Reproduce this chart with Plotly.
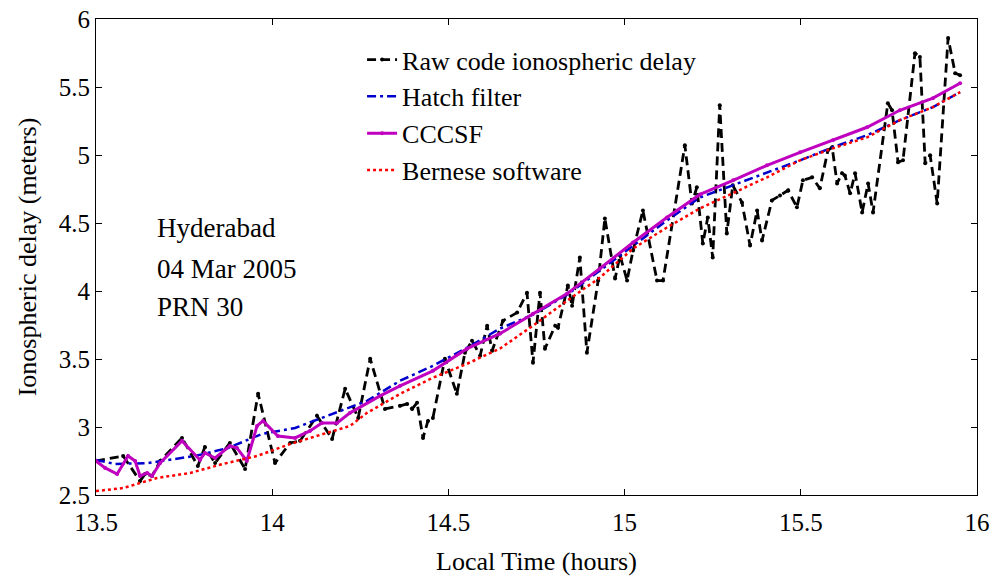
import plotly.graph_objects as go

# ---- data ----
raw_t = [13.500, 13.577, 13.625, 13.639, 13.659, 13.682, 13.744, 13.789, 13.809, 13.838,
         13.880, 13.923, 13.960, 14.008, 14.051, 14.079, 14.127, 14.170, 14.207, 14.244,
         14.278, 14.320, 14.363, 14.383, 14.397, 14.411, 14.428, 14.442, 14.456, 14.490,
         14.524, 14.547, 14.567, 14.590, 14.610, 14.624, 14.655, 14.695, 14.723, 14.740,
         14.760, 14.774, 14.803, 14.811, 14.839, 14.851, 14.873, 14.893, 14.925, 14.944,
         14.973, 14.987, 15.007, 15.024, 15.052, 15.092, 15.109, 15.171, 15.191, 15.205,
         15.222, 15.236, 15.250, 15.270, 15.290, 15.307, 15.333, 15.356, 15.376, 15.390,
         15.418, 15.441, 15.464, 15.489, 15.506, 15.532, 15.554, 15.577, 15.589, 15.603,
         15.617, 15.625, 15.640, 15.654, 15.674, 15.691, 15.705, 15.747, 15.759, 15.776,
         15.790, 15.824, 15.838, 15.853, 15.867, 15.887, 15.918, 15.938, 15.952]
raw_v = [2.750, 2.787, 2.603, 2.654, 2.640, 2.750, 2.920, 2.713, 2.853, 2.735,
         2.883, 2.691, 3.244, 2.735, 2.883, 2.898, 3.082, 2.912, 3.281, 3.067,
         3.502, 3.133, 3.156, 3.170, 3.133, 3.178, 2.920, 3.045, 3.067, 3.502,
         3.244, 3.546, 3.635, 3.524, 3.745, 3.561, 3.782, 3.841, 3.988, 3.472,
         3.988, 3.576, 3.745, 3.730, 4.040, 3.892, 4.246, 3.546, 4.077, 4.534,
         4.091, 4.261, 4.077, 4.298, 4.592, 4.077, 4.077, 5.071, 4.644, 4.762,
         4.349, 4.541, 4.246, 5.366, 4.423, 4.777, 4.651, 4.335, 4.592, 4.371,
         4.666, 4.703, 4.740, 4.615, 4.814, 4.836, 4.755, 5.035, 5.057, 4.791,
         4.865, 4.850, 4.718, 4.865, 4.578, 4.791, 4.578, 5.381, 5.329, 4.946,
         4.961, 5.749, 5.720, 4.939, 4.998, 4.644, 5.860, 5.602, 5.587]

hatch_t = [13.500, 13.554, 13.648, 13.781, 13.875, 13.971, 14.065, 14.173, 14.269, 14.363,
           14.456, 14.553, 14.646, 14.740, 14.837, 14.930, 15.024, 15.120, 15.214, 15.308,
           15.404, 15.498, 15.591, 15.688, 15.781, 15.875, 15.952]
hatch_v = [2.758, 2.728, 2.735, 2.787, 2.846, 2.949, 2.993, 3.097, 3.192, 3.340,
           3.450, 3.583, 3.723, 3.826, 3.973, 4.150, 4.335, 4.519, 4.688, 4.777,
           4.873, 4.961, 5.057, 5.145, 5.256, 5.352, 5.462]

cccsf_t = [13.500, 13.526, 13.560, 13.591, 13.611, 13.625, 13.645, 13.659, 13.682, 13.744,
           13.795, 13.809, 13.838, 13.880, 13.900, 13.928, 13.957, 13.974, 14.016, 14.065,
           14.107, 14.141, 14.184, 14.221, 14.306, 14.363, 14.456, 14.553, 14.646, 14.740,
           14.837, 14.930, 15.024, 15.120, 15.214, 15.308, 15.404, 15.498, 15.591, 15.688,
           15.781, 15.875, 15.952]
cccsf_v = [2.750, 2.699, 2.654, 2.787, 2.750, 2.640, 2.662, 2.640, 2.735, 2.898,
           2.758, 2.809, 2.772, 2.861, 2.846, 2.750, 3.008, 3.045, 2.934, 2.920,
           2.971, 3.030, 3.030, 3.104, 3.229, 3.303, 3.413, 3.576, 3.686, 3.833,
           3.981, 4.165, 4.357, 4.541, 4.710, 4.814, 4.924, 5.020, 5.108, 5.204,
           5.329, 5.418, 5.528]

bern_t = [13.500, 13.577, 13.673, 13.767, 13.860, 13.957, 14.051, 14.144, 14.221, 14.269,
          14.363, 14.456, 14.553, 14.646, 14.740, 14.837, 14.930, 15.024, 15.120, 15.214,
          15.308, 15.404, 15.498, 15.591, 15.688, 15.781, 15.875, 15.952]
bern_v = [2.529, 2.551, 2.625, 2.662, 2.728, 2.787, 2.875, 2.949, 3.008, 3.104,
          3.244, 3.362, 3.465, 3.576, 3.745, 3.929, 4.099, 4.312, 4.467, 4.607,
          4.718, 4.836, 4.961, 5.049, 5.130, 5.256, 5.352, 5.462]

x_ticks = [13.5, 14, 14.5, 15, 15.5, 16]
x_labels = ["13.5", "14", "14.5", "15", "15.5", "16"]
y_ticks = [2.5, 3, 3.5, 4, 4.5, 5, 5.5, 6]
y_labels = ["2.5", "3", "3.5", "4", "4.5", "5", "5.5", "6"]

names = ["Raw code ionospheric delay", "Hatch filter", "CCCSF", "Bernese software"]
info_lines = ["Hyderabad", "04 Mar 2005", "PRN 30"]
info_y = [4.460, 4.165, 3.885]
info_x = 13.667

FONT = "Liberation Serif, Times New Roman, serif"
FS = 26
TFS = 25

fig = go.Figure()
fig.add_trace(go.Scatter(x=raw_t, y=raw_v, name=names[0], mode="lines+markers",
                         line=dict(color="black", width=2.8, dash="9px,5px"),
                         marker=dict(color="black", size=4)))
fig.add_trace(go.Scatter(x=hatch_t, y=hatch_v, name=names[1], mode="lines",
                         line=dict(color="#0000CC", width=2.5, dash="9px,4px,3px,4px")))
fig.add_trace(go.Scatter(x=cccsf_t, y=cccsf_v, name=names[2], mode="lines+markers",
                         line=dict(color="#BF00BF", width=3),
                         marker=dict(color="#BF00BF", size=4)))
fig.add_trace(go.Scatter(x=bern_t, y=bern_v, name=names[3], mode="lines",
                         line=dict(color="#FF0000", width=2.5, dash="3px,3px")))

for txt, yy in zip(info_lines, info_y):
    fig.add_annotation(x=info_x, y=yy, xref="x", yref="y", text=txt,
                       showarrow=False, xanchor="left", yanchor="middle", align="left",
                       font=dict(family=FONT, size=27, color="black"))

axis_common = dict(showline=True, linecolor="black", linewidth=1, mirror="ticks",
                   ticks="inside", ticklen=6, tickcolor="black", showgrid=False,
                   zeroline=False, automargin=False,
                   tickfont=dict(family=FONT, size=TFS, color="black"))

fig.update_layout(
    width=992, height=576,
    margin=dict(l=96, r=15, t=19, b=81),
    paper_bgcolor="white", plot_bgcolor="white",
    font=dict(family=FONT, size=FS, color="black"),
    xaxis=dict(range=[13.5, 16], tickvals=x_ticks, ticktext=x_labels,
               ticklabelstandoff=5,
               title=dict(text="Local Time (hours)", font=dict(family=FONT, size=FS), standoff=18),
               **axis_common),
    yaxis=dict(range=[2.5, 6], tickvals=y_ticks, ticktext=y_labels,
               title=dict(text="Ionospheric delay (meters)", font=dict(family=FONT, size=FS), standoff=14),
               **axis_common),
    legend=dict(x=0.302, y=0.964, xanchor="left", yanchor="top",
                bgcolor="rgba(255,255,255,0)", borderwidth=0,
                font=dict(family=FONT, size=FS, color="black"), tracegroupgap=0),
    showlegend=True,
)

fig.write_html("out.html")
